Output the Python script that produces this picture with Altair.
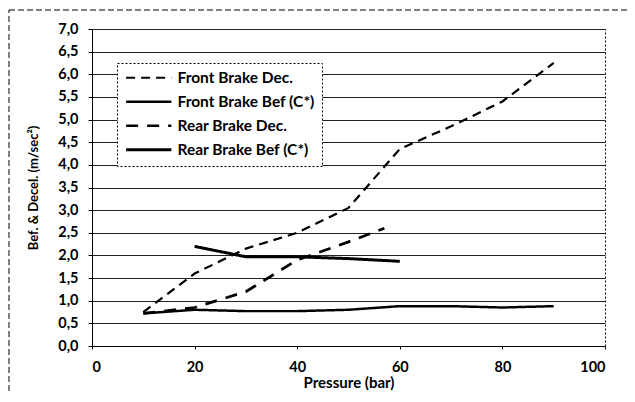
import altair as alt
import pandas as pd

series_names = ["Front Brake Dec.", "Front Brake Bef (C*)", "Rear Brake Dec.", "Rear Brake Bef (C*)"]

front_dec_x = [10, 20, 30, 40, 50, 60, 70, 80, 90]
front_dec_y = [0.75, 1.6, 2.15, 2.5, 3.05, 4.35, 4.85, 5.4, 6.25]
front_bef_x = [10, 20, 30, 40, 50, 60, 70, 80, 90]
front_bef_y = [0.72, 0.8, 0.77, 0.77, 0.8, 0.88, 0.88, 0.85, 0.88]
rear_dec_x = [10, 20, 30, 40, 50, 57]
rear_dec_y = [0.72, 0.85, 1.2, 1.9, 2.3, 2.6]
rear_bef_x = [20, 30, 40, 50, 60]
rear_bef_y = [2.2, 1.97, 1.97, 1.93, 1.87]

x_ticks = [0, 20, 40, 60, 80, 100]
y_ticks = [i * 0.5 for i in range(15)]

rows = []
for name, xs, ys in zip(series_names,
                        [front_dec_x, front_bef_x, rear_dec_x, rear_bef_x],
                        [front_dec_y, front_bef_y, rear_dec_y, rear_bef_y]):
    for i, (xv, yv) in enumerate(zip(xs, ys)):
        rows.append({"series": name, "pressure": xv, "value": yv, "order": i})
df = pd.DataFrame(rows)

FONT = "Lato"

legend_opts = dict(title=None, orient="none", legendX=25, legendY=34,
                   symbolType="M-4,0H4", symbolSize=128, symbolOffset=17,
                   symbolStrokeColor="black", labelOffset=21,
                   labelFontSize=15.5, labelFontWeight="bold",
                   labelFont=FONT, labelColor="black",
                   rowPadding=7, padding=7,
                   strokeColor="black", fillColor="white")

lines = alt.Chart(df).mark_line(color="black", strokeCap="butt").encode(
    x=alt.X("pressure:Q", scale=alt.Scale(domain=[0, 100], nice=False),
            axis=alt.Axis(values=x_ticks, title="Pressure (bar)", grid=False,
                          labelFontSize=14.5, labelFontWeight="bold", labelFont=FONT,
                          titleFontSize=15, titleFontWeight="bold", titleFont=FONT,
                          labelPadding=11, titlePadding=2, tickSize=3,
                          domainColor="black", tickColor="black", labelColor="black",
                          titleColor="black")),
    y=alt.Y("value:Q", scale=alt.Scale(domain=[0, 7], nice=False),
            axis=alt.Axis(values=y_ticks, title="Bef. & Decel. (m/sec²)",
                          labelExpr="replace(format(datum.value, '.1f'), '.', ',')",
                          grid=True, gridColor="#222", gridWidth=1,
                          labelFontSize=14.5, labelFontWeight="bold", labelFont=FONT,
                          titleFontSize=13, titleFontWeight="bold", titleFont=FONT,
                          labelPadding=10, titlePadding=17, tickSize=4,
                          domainColor="black", tickColor="black", labelColor="black",
                          titleColor="black")),
    strokeDash=alt.StrokeDash("series:N",
                              scale=alt.Scale(domain=series_names,
                                              range=[[9, 6], [1, 0], [12, 9], [1, 0]]),
                              legend=alt.Legend(**legend_opts)),
    strokeWidth=alt.StrokeWidth("series:N",
                                scale=alt.Scale(domain=series_names, range=[2.2, 3, 3.8, 3]),
                                legend=alt.Legend(**legend_opts)),
    order="order:Q",
)

border = alt.Chart(pd.DataFrame({"a": [0]})).mark_rect(
    fill=None, stroke="black", strokeDash=[6, 3], strokeWidth=1
).encode(x=alt.value(-83), x2=alt.value(545), y=alt.value(-19), y2=alt.value(385))

chart = alt.layer(border, lines).properties(
    width=513, height=317,
    autosize=alt.AutoSizeParams(type="none"),
    padding={"left": 84, "top": 21, "right": 22, "bottom": 48},
    background="white",
).configure_view(stroke="black", strokeDash=[2, 2], strokeWidth=1
).configure_legend(strokeDash=[2, 2])

chart.save("out.html", embed_options={"renderer": "svg", "actions": False})
